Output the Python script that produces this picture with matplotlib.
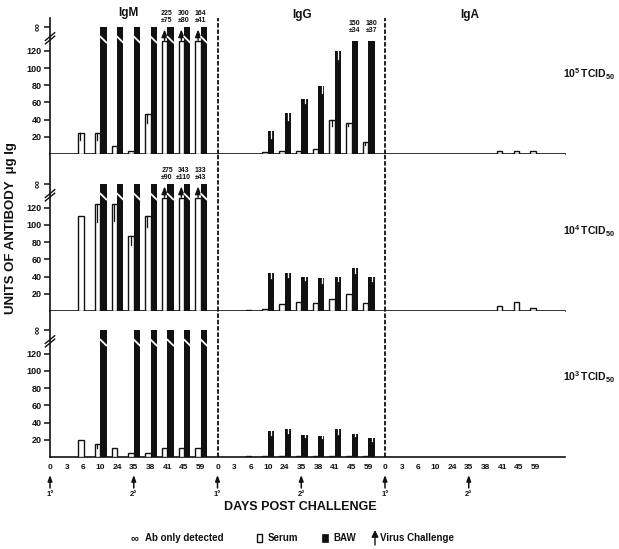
import numpy as np
import matplotlib
matplotlib.use("Agg")
import matplotlib.pyplot as plt
from matplotlib.patches import Rectangle, FancyArrowPatch

plt.rcParams['font.family'] = ['Liberation Sans', 'DejaVu Sans']
plt.rcParams['font.weight'] = 'bold'
plt.rcParams['mathtext.fontset'] = 'custom'
plt.rcParams['mathtext.bf'] = 'Liberation Sans:bold'
plt.rcParams['mathtext.rm'] = 'Liberation Sans:bold'

nan = np.nan
inf = np.inf   # "Ab only detected"

days = ["0", "3", "6", "10", "24", "35", "38", "41", "45", "59"]
classes = ["IgM", "IgG", "IgA"]
dose_labels = [r"$\mathbf{10^{5}\,TCID_{50}}$", r"$\mathbf{10^{4}\,TCID_{50}}$",
               r"$\mathbf{10^{3}\,TCID_{50}}$"]

# ---- 10^5 TCID50 ----
igm5_serum = [nan, nan, 25, 24, 9, 3, 46, 225, 300, 164]
igm5_serum_se = [nan, nan, 9, 8, nan, nan, 10, 75, 80, 41]
igm5_baw = [nan, nan, nan, inf, inf, inf, inf, inf, inf, inf]
igm5_baw_se = [nan] * 10
igg5_serum = [nan, nan, nan, 2, 4, 3.5, 6, 40, 36, 14]
igg5_serum_se = [nan, nan, nan, nan, nan, nan, nan, 8, 4, 3]
igg5_baw = [nan, nan, nan, 27, 48, 64, 79, 120, 150, 180]
igg5_baw_se = [nan, nan, nan, 8, 8, 5, 8, 10, 34, 37]
iga5_serum = [nan, nan, nan, nan, nan, nan, nan, 3, 3, 3]
iga5_baw = [nan] * 10

# ---- 10^4 TCID50 ----
igm4_serum = [nan, nan, 110, 125, 125, 87, 110, 275, 343, 133]
igm4_serum_se = [nan, nan, nan, 22, 20, 10, 12, 90, 110, 43]
igm4_baw = [nan, nan, nan, inf, inf, inf, inf, inf, inf, inf]
igg4_serum = [nan, nan, 1.5, 2, 8, 11, 9, 14, 20, 9]
igg4_serum_se = [nan] * 10
igg4_baw = [nan, nan, nan, 44, 44, 40, 38, 40, 50, 40]
igg4_baw_se = [nan, nan, nan, 6, 5, 4, 5, 5, 6, 5]
iga4_serum = [nan, nan, nan, nan, nan, nan, nan, 6, 10, 3]
iga4_baw = [nan] * 10

# ---- 10^3 TCID50 ----
igm3_serum = [nan, nan, 20, 15, 10, 5, 5, 10, 10, 10]
igm3_serum_se = [nan, nan, nan, 5, nan, nan, nan, nan, nan, nan]
igm3_baw = [nan, nan, nan, inf, nan, inf, inf, inf, inf, inf]
igg3_serum = [nan, nan, 1.5, 1.5, 1.5, 1.5, 1.5, 1.5, 1.5, 1.5]
igg3_baw = [nan, nan, nan, 30, 33, 26, 25, 32, 27, 22]
igg3_baw_se = [nan, nan, nan, 4, 5, 3, 3, 5, 3, 3]
iga3_serum = [nan] * 10
iga3_baw = [nan] * 10

none_se = [nan] * 10
panels = [
    [(igm5_serum, igm5_serum_se, igm5_baw, igm5_baw_se),
     (igg5_serum, igg5_serum_se, igg5_baw, igg5_baw_se),
     (iga5_serum, none_se, iga5_baw, none_se)],
    [(igm4_serum, igm4_serum_se, igm4_baw, none_se),
     (igg4_serum, igg4_serum_se, igg4_baw, igg4_baw_se),
     (iga4_serum, none_se, iga4_baw, none_se)],
    [(igm3_serum, igm3_serum_se, igm3_baw, none_se),
     (igg3_serum, none_se, igg3_baw, igg3_baw_se),
     (iga3_serum, none_se, iga3_baw, none_se)],
]

K = '#111111'
W_S, W_B = 0.32, 0.38
CAP = 131
INF_Y = 148

FW, FH = 619, 549
fig = plt.figure(figsize=(FW / 100, FH / 100), dpi=100)

left_px, right_px = 50, 565
rows_px = [(18, 154), (154, 311), (311, 457)]
ppu = 0.86
XMAX = (right_px - left_px) / 16.75

axes = []
for r, (t, b) in enumerate(rows_px):
    ax = fig.add_axes([left_px / FW, 1 - b / FH, (right_px - left_px) / FW, (b - t) / FH])
    ax.set_xlim(0, XMAX)
    ax.set_ylim(0, (b - t) / ppu)
    axes.append(ax)

for r, ax in enumerate(axes):
    for s in range(3):
        serum, serum_se, baw, baw_se = panels[r][s]
        for i in range(10):
            x = s * 10 + i
            v = serum[i]
            if not np.isnan(v):
                off = v > CAP - 1
                h = CAP if off else v
                ax.bar(x - W_S, h, width=W_S, align='edge', facecolor='white',
                       edgecolor=K, linewidth=1.0, zorder=3)
                if off:
                    ax.annotate('', xy=(x - W_S / 2, INF_Y), xytext=(x - W_S / 2, CAP - 2),
                                arrowprops=dict(arrowstyle='-|>,head_width=0.18,head_length=0.45',
                                                color=K, lw=1.0), zorder=4,
                                annotation_clip=False)
                    ax.text(x - W_S / 2 + 0.15, INF_Y + 3, f"{v:g}\n±{serum_se[i]:g}",
                            ha='center', va='bottom', fontsize=5, linespacing=1.0,
                            color=K)
                elif not np.isnan(serum_se[i]):
                    xe = x - W_S * 0.6
                    ax.plot([xe, xe], [h, h - serum_se[i]], color=K, lw=0.9, zorder=4)
            v = baw[i]
            if not np.isnan(v):
                if np.isinf(v):
                    ax.bar(x, INF_Y, width=W_B, align='edge', color=K, lw=0, zorder=3)
                    ax.plot([x - 0.02, x + W_B + 0.02], [137, 129], color='white',
                            lw=1.3, zorder=4, solid_capstyle='butt')
                else:
                    off = v > CAP - 1
                    h = CAP if off else v
                    ax.bar(x, h, width=W_B, align='edge', color=K, lw=0, zorder=3)
                    if off:
                        ax.text(x + W_B / 2, INF_Y - 8, f"{v:g}\n±{baw_se[i]:g}",
                                ha='center', va='bottom', fontsize=5, linespacing=1.0,
                                color=K)
                    elif not np.isnan(baw_se[i]):
                        xe = x + W_B * 0.55
                        ax.plot([xe, xe], [h, h - baw_se[i]], color='white', lw=0.9, zorder=4)
    for xv in (10, 20):
        ax.axvline(xv, color=K, lw=1.3, ls=(0, (2.5, 1.0)), zorder=2)
    for sp in ('top', 'right'):
        ax.spines[sp].set_visible(False)
    ax.spines['left'].set_linewidth(1.2)
    ax.spines['bottom'].set_linewidth(1.2)
    ax.spines['left'].set_color(K)
    ax.spines['bottom'].set_color(K)
    ax.set_yticks([20, 40, 60, 80, 100, 120, INF_Y])
    ax.set_yticklabels(["20", "40", "60", "80", "100", "120", "∞"], fontsize=6.5,
                       fontweight='bold')
    ax.get_yticklabels()[-1].set_rotation(90)
    ax.get_yticklabels()[-1].set_fontsize(8)
    ax.tick_params(axis='y', length=4, width=1.1, pad=2, colors=K)
    # axis break marks
    for dy in (0, 4):
        ax.plot([-0.28, 0.28], [128 + dy, 137 + dy], color=K, lw=1.0, clip_on=False, zorder=5)
    ax.set_xticks([s * 10 + i for s in range(3) for i in range(10)])
    if r < 2:
        ax.tick_params(axis='x', length=0, labelbottom=False)
    else:
        ax.set_xticklabels(days * 3, fontsize=6)
        ax.tick_params(axis='x', length=0, pad=5, colors=K)

# challenge arrows below x axis
axb = axes[2]
tr = axb.get_xaxis_transform()
hb = (rows_px[2][1] - rows_px[2][0])
for s in range(3):
    for i, lab in ((0, "1°"), (5, "2°")):
        x = s * 10 + i
        axb.annotate('', xy=(x, -(475 - 457) / hb), xytext=(x, -(488 - 457) / hb),
                     xycoords=tr, textcoords=tr,
                     arrowprops=dict(arrowstyle='-|>,head_width=0.13,head_length=0.35',
                                     color=K, lw=1.1, shrinkA=0, shrinkB=0),
                     annotation_clip=False)
        axb.text(x, -(494 - 457) / hb, lab, transform=tr, ha='center', va='center',
                 fontsize=5.5, color=K)

# titles
for name, xp, yp in (("IgM", 128, 13), ("IgG", 302, 15), ("IgA", 470, 15)):
    fig.text(xp / FW, 1 - yp / FH, name, ha='center', va='center', fontsize=8.5, color=K)

for lab, yp in zip(dose_labels, (74, 231, 377)):
    fig.text(563 / FW, 1 - yp / FH, lab, ha='left', va='center', fontsize=7.5, color=K)

fig.text(11 / FW, 1 - 228 / FH, "UNITS OF ANTIBODY  μg Ig", rotation=90,
         ha='center', va='center', fontsize=9.5, color=K)
fig.text(300 / FW, 1 - 507 / FH, "DAYS POST CHALLENGE", ha='center', va='center',
         fontsize=9, color=K)

# legend
ly = 1 - 538 / FH
fig.text(135 / FW, ly, "∞", ha='center', va='center', fontsize=8, color=K)
fig.text(145 / FW, ly, "Ab only detected", ha='left', va='center', fontsize=7, color=K)
fig.patches.append(Rectangle((257 / FW, 1 - 542 / FH), 5 / FW, 8 / FH, transform=fig.transFigure,
                             facecolor='white', edgecolor=K, lw=1.0))
fig.text(268 / FW, ly, "Serum", ha='left', va='center', fontsize=7, color=K)
fig.patches.append(Rectangle((322 / FW, 1 - 542 / FH), 6 / FW, 8 / FH, transform=fig.transFigure,
                             facecolor=K, edgecolor=K, lw=0.5))
fig.text(333 / FW, ly, "BAW", ha='left', va='center', fontsize=7, color=K)
fig.add_artist(FancyArrowPatch((375 / FW, 1 - 545 / FH), (375 / FW, 1 - 530 / FH),
               transform=fig.transFigure, arrowstyle='-|>,head_width=2,head_length=4',
               color=K, lw=1.0, shrinkA=0, shrinkB=0))
fig.text(380 / FW, ly, "Virus Challenge", ha='left', va='center', fontsize=7, color=K)

fig.savefig("out.png", dpi=100, facecolor='white')
